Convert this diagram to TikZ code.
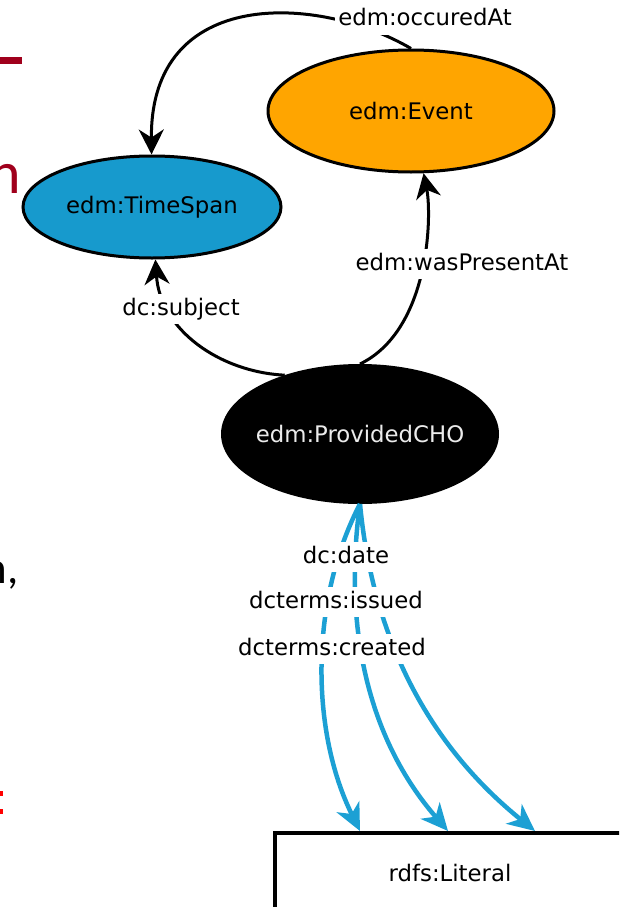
\documentclass[tikz,border=0pt]{standalone}
\usepackage{fontspec}
\setmainfont{DejaVu Sans}
\newfontfamily\slidefont{Carlito}
\usetikzlibrary{arrows.meta}
\usetikzlibrary{shapes.geometric}
\definecolor{spanblue}{RGB}{23,154,205}
\definecolor{eventorange}{RGB}{255,165,0}
\definecolor{litblue}{RGB}{28,160,212}
\definecolor{slidered}{RGB}{160,0,28}

\begin{document}
\begin{tikzpicture}[x=1pt,y=-1pt,
  clase/.style={ellipse,draw=black,line width=3pt,inner sep=0pt,font=\fontsize{22.8}{27}\selectfont},
  litbox/.style={rectangle,draw=black,line width=4pt,inner sep=0pt,font=\fontsize{22.8}{27}\selectfont},
  prop/.style={fill=white,anchor=base,inner xsep=3pt,inner ysep=4pt,text height=17pt,text depth=5pt,font=\fontsize{22.8}{27}\selectfont},
  rel/.style={line width=3pt,-{Stealth[length=25pt,width=25pt,inset=8pt]}},
  dato/.style={litblue,line width=4.5pt,-{Stealth[length=27pt,width=25pt,inset=8pt]}}]
  \useasboundingbox (0,0) rectangle (619,907);
  \clip (0,0) rectangle (619,907);
  % Restos de la diapositiva
  \fill[slidered] (0,57) rectangle (22,64);
  \node[anchor=base east,inner sep=0pt,text=slidered,font=\slidefont\fontsize{60}{60}\selectfont] (fragn) at (21,193) {n};
  \node[anchor=base east,inner sep=0pt,font=\slidefont\fontsize{45}{45}\selectfont] (fragcoma) at (19,583) {n,};
  \fill[red] (0,791) rectangle (3,796);
  \fill[red] (0,809) rectangle (3,814);
  % Clases
  \node[clase,fill=spanblue,minimum width=258pt,minimum height=102pt] (timespan) at (152,207) {edm:TimeSpan};
  \node[clase,fill=eventorange,minimum width=286pt,minimum height=122pt] (event) at (411,111) {edm:Event};
  \node[clase,fill=black,minimum width=275pt,minimum height=137pt,
    label={[text=white!92!black,font=\fontsize{22.8}{27}\selectfont]center:edm:ProvidedCHO}] (cho) at (360,434) {};
  \node[litbox,minimum width=350pt,minimum height=80pt] (lit) at (450,873) {rdfs:Literal};
  % Propiedades
  \draw[rel] (event.north) .. controls (320,-5) and (150,-15) .. (timespan);
  \draw[rel] (cho.north) .. controls (430,330) and (432,215) .. (event);
  \draw[rel] (cho.142) .. controls (220,372) and (160,330) .. (timespan);
  \foreach \dx/\ax/\ay/\bx in {-90/310/600/310, -2/345/610/360, 85/370/610/410}
    \draw[dato] (cho.south) .. controls (\ax,\ay) and (\bx,730) .. ([xshift=\dx pt]lit.north);
  % Etiquetas
  \node[prop] (occured) at (425,26) {edm:occuredAt};
  \node[prop] (present) at (462,270) {edm:wasPresentAt};
  \node[prop] (subject) at (181,315) {dc:subject};
  \node[prop] (date) at (346,563) {dc:date};
  \node[prop] (issued) at (336,608) {dcterms:issued};
  \node[prop] (created) at (332,655) {dcterms:created};
\end{tikzpicture}
\end{document}
